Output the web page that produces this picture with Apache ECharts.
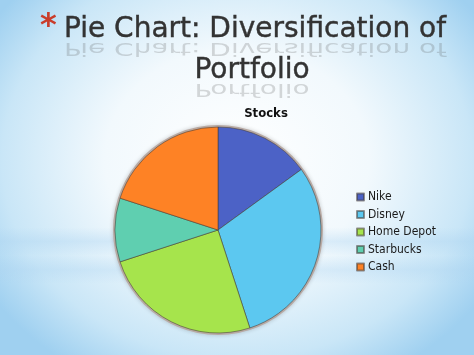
<!DOCTYPE html>
<html>
<head>
<meta charset="utf-8">
<script src="https://cdn.jsdelivr.net/npm/echarts@6/dist/echarts.min.js"></script>
<style>
  html, body { margin: 0; padding: 0; }
  body {
    width: 474px; height: 355px; overflow: hidden;
    background:
      linear-gradient(180deg, rgba(255,255,255,0) 0%, rgba(255,255,255,0) 64%, rgba(170,210,240,0.35) 68%, rgba(255,255,255,0) 72%, rgba(170,210,240,0.3) 76%, rgba(255,255,255,0) 80%),
      radial-gradient(ellipse 62% 70% at 50% 45%, #ffffff 0%, #f2f9fd 45%, #c9e6f7 80%, #9fd0f0 100%);
  }
  #main { width: 474px; height: 355px; }
</style>
</head>
<body>
<div id="main"></div>
<script>
  // data
  var categories = ["Nike", "Disney", "Home Depot", "Starbucks", "Cash"];
  var values = [15, 30, 25, 10, 20];
  var colors = ["#4c62c6", "#5cc8f0", "#a6e44c", "#5fcfb0", "#fe8225"];

  var titleLines = ["Pie Chart: Diversification of", "Portfolio"];
  var chartTitle = "Stocks";

  var myChart = echarts.init(document.getElementById("main"));

  var pieData = categories.map(function (name, i) {
    return { name: name, value: values[i], itemStyle: { color: colors[i] } };
  });

  // title text + faint mirrored copy underneath (baseline at y)
  function titleText(text, x, y) {
    var style = {
      text: text,
      font: "28px 'DejaVu Sans'",
      fill: "#333333",
      stroke: "#333333",
      lineWidth: 0.4,
      align: "center",
      verticalAlign: "bottom"
    };
    return [
      { type: "text", x: x, y: y, style: style, z: 10 },
      {
        type: "text", x: x, y: y - 5, scaleY: -0.6,
        style: Object.assign({}, style, { fill: "rgba(80,80,80,0.22)", stroke: null }), z: 9
      }
    ];
  }

  var option = {
    animation: false,
    graphic: [
      {
        type: "text", left: 40, top: 11, z: 10,
        style: { text: "*", font: "bold 32px 'DejaVu Sans'", fill: "#c93d2b" }
      }
    ].concat(titleText(titleLines[0], 255, 44), titleText(titleLines[1], 252, 85)),
    title: {
      text: chartTitle,
      left: 261,
      top: 102,
      textAlign: "center",
      textStyle: { fontFamily: "DejaVu Sans Condensed", fontSize: 13, fontWeight: "bold", color: "#111" }
    },
    legend: {
      orient: "vertical",
      left: 351,
      top: 186,
      icon: "rect",
      itemWidth: 7,
      itemHeight: 7,
      itemGap: 5.5,
      data: categories,
      textStyle: { fontFamily: "DejaVu Sans Condensed", fontSize: 12, color: "#1a1a1a", padding: [0, 0, 0, -1] }
    },
    series: [
      {
        // outline ring
        type: "pie",
        silent: true,
        center: [218, 230],
        radius: 105,
        label: { show: false },
        itemStyle: { color: "#b8aaa4", shadowBlur: 4, shadowColor: "rgba(0,0,0,0.2)" },
        data: [{ value: 1, name: "" }],
        legendHoverLink: false,
        z: 1
      },
      {
        type: "pie",
        center: [218, 230],
        radius: 103,
        startAngle: 90,
        clockwise: true,
        label: { show: false },
        labelLine: { show: false },
        itemStyle: { borderColor: "rgba(70,60,55,0.55)", borderWidth: 1 },
        data: pieData,
        z: 2
      }
    ]
  };

  myChart.setOption(option);
</script>
</body>
</html>
